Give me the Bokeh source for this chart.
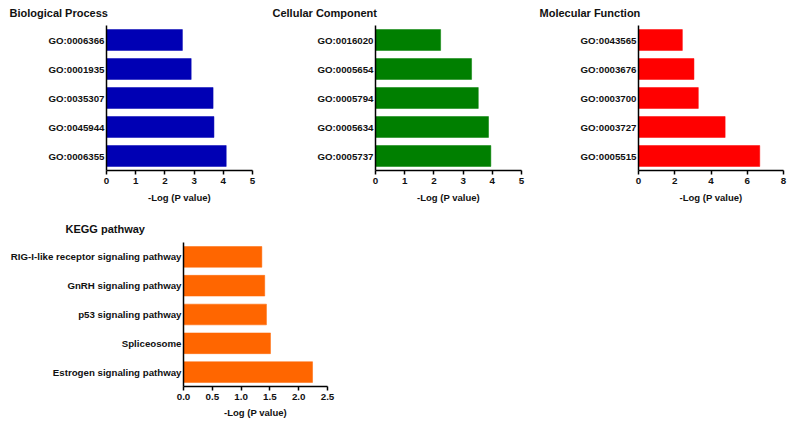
from bokeh.plotting import figure
from bokeh.models import (ColumnDataSource, FactorRange, Range1d, Title,
                          SingleIntervalTicker, NumeralTickFormatter)
from bokeh.layouts import column, row
from bokeh.embed import file_html
from bokeh.resources import INLINE

# ---- data (listed top to bottom as in the chart) ----
bp_terms = ["GO:0006366", "GO:0001935", "GO:0035307", "GO:0045944", "GO:0006355"]
bp_values = [2.6, 2.9, 3.65, 3.68, 4.1]

cc_terms = ["GO:0016020", "GO:0005654", "GO:0005794", "GO:0005634", "GO:0005737"]
cc_values = [2.23, 3.29, 3.52, 3.87, 3.95]

mf_terms = ["GO:0043565", "GO:0003676", "GO:0003700", "GO:0003727", "GO:0005515"]
mf_values = [2.42, 3.06, 3.3, 4.78, 6.69]

kegg_terms = ["RIG-I-like receptor signaling pathway", "GnRH signaling pathway",
              "p53 signaling pathway", "Spliceosome", "Estrogen signaling pathway"]
kegg_values = [1.36, 1.41, 1.44, 1.51, 2.24]

x_title = "-Log (P value)"

FONT = "Liberation Sans"


def panel(title, terms, values, color, xmax, tick_int, fmt,
          left, right, top, bottom, fw, fh, title_dx, title_standoff,
          x_standoff=3, label_standoff=5):
    src = ColumnDataSource(dict(term=terms, val=values))
    p = figure(y_range=FactorRange(factors=list(reversed(terms)), range_padding=0),
               x_range=Range1d(0, xmax),
               frame_width=fw, frame_height=fh,
               min_border_left=left, min_border_right=right,
               min_border_top=top, min_border_bottom=bottom,
               output_backend="svg", toolbar_location=None,
               background_fill_color="white", border_fill_color="white")
    p.outline_line_color = None
    p.xgrid.visible = False
    p.ygrid.visible = False
    p.hbar(y="term", right="val", left=0, height=0.72, source=src,
           fill_color=color, line_color=color, line_width=0.5)

    t = Title(text=title, align="left", offset=title_dx, vertical_align="top",
              text_font=FONT, text_font_style="bold", text_font_size="11px",
              text_color="#111111", standoff=title_standoff)
    p.add_layout(t, "above")

    xa = p.xaxis[0]
    xa.ticker = SingleIntervalTicker(interval=tick_int, num_minor_ticks=0)
    if fmt:
        xa.formatter = NumeralTickFormatter(format=fmt)
    xa.axis_line_width = 1.5
    xa.axis_line_color = "black"
    xa.major_tick_line_width = 1.5
    xa.major_tick_line_color = "black"
    xa.major_tick_out = 4
    xa.major_tick_in = 0
    xa.minor_tick_line_color = None
    xa.major_label_text_font = FONT
    xa.major_label_text_font_style = "bold"
    xa.major_label_text_font_size = "9.8px"
    xa.major_label_text_color = "#111111"
    xa.major_label_standoff = x_standoff
    xa.axis_label = x_title
    xa.axis_label_text_font = FONT
    xa.axis_label_text_font_style = "bold"
    xa.axis_label_text_font_size = "9.5px"
    xa.axis_label_text_color = "#111111"
    xa.axis_label_standoff = label_standoff

    ya = p.yaxis[0]
    ya.axis_line_width = 1.5
    ya.axis_line_color = "black"
    ya.major_tick_out = 0
    ya.major_tick_in = 0
    ya.major_tick_line_color = None
    ya.minor_tick_line_color = None
    ya.major_label_text_font = FONT
    ya.major_label_text_font_style = "bold"
    ya.major_label_text_font_size = "9.7px"
    ya.major_label_text_color = "#111111"
    ya.major_label_standoff = 2
    return p


p1 = panel("Biological Process", bp_terms, bp_values, "#0000B4", 5, 1, None,
           left=106, right=18, top=25, bottom=42, fw=146, fh=145,
           title_dx=-97, title_standoff=10)
p2 = panel("Cellular Component", cc_terms, cc_values, "#007F00", 5, 1, None,
           left=105, right=17, top=25, bottom=42, fw=146, fh=145,
           title_dx=-103, title_standoff=10)
p3 = panel("Molecular Function", mf_terms, mf_values, "#FF0000", 8, 2, None,
           left=100, right=7, top=25, bottom=42, fw=145, fh=145,
           title_dx=-99, title_standoff=10)
p4 = panel("KEGG pathway", kegg_terms, kegg_values, "#FF6600", 2.5, 0.5, "0.0",
           left=183, right=15, top=30, bottom=38, fw=144, fh=144,
           title_dx=-118, title_standoff=12, x_standoff=3, label_standoff=4)

layout = column(row(p1, p2, p3), row(p4))
open("out.html", "w").write(file_html(layout, INLINE))
